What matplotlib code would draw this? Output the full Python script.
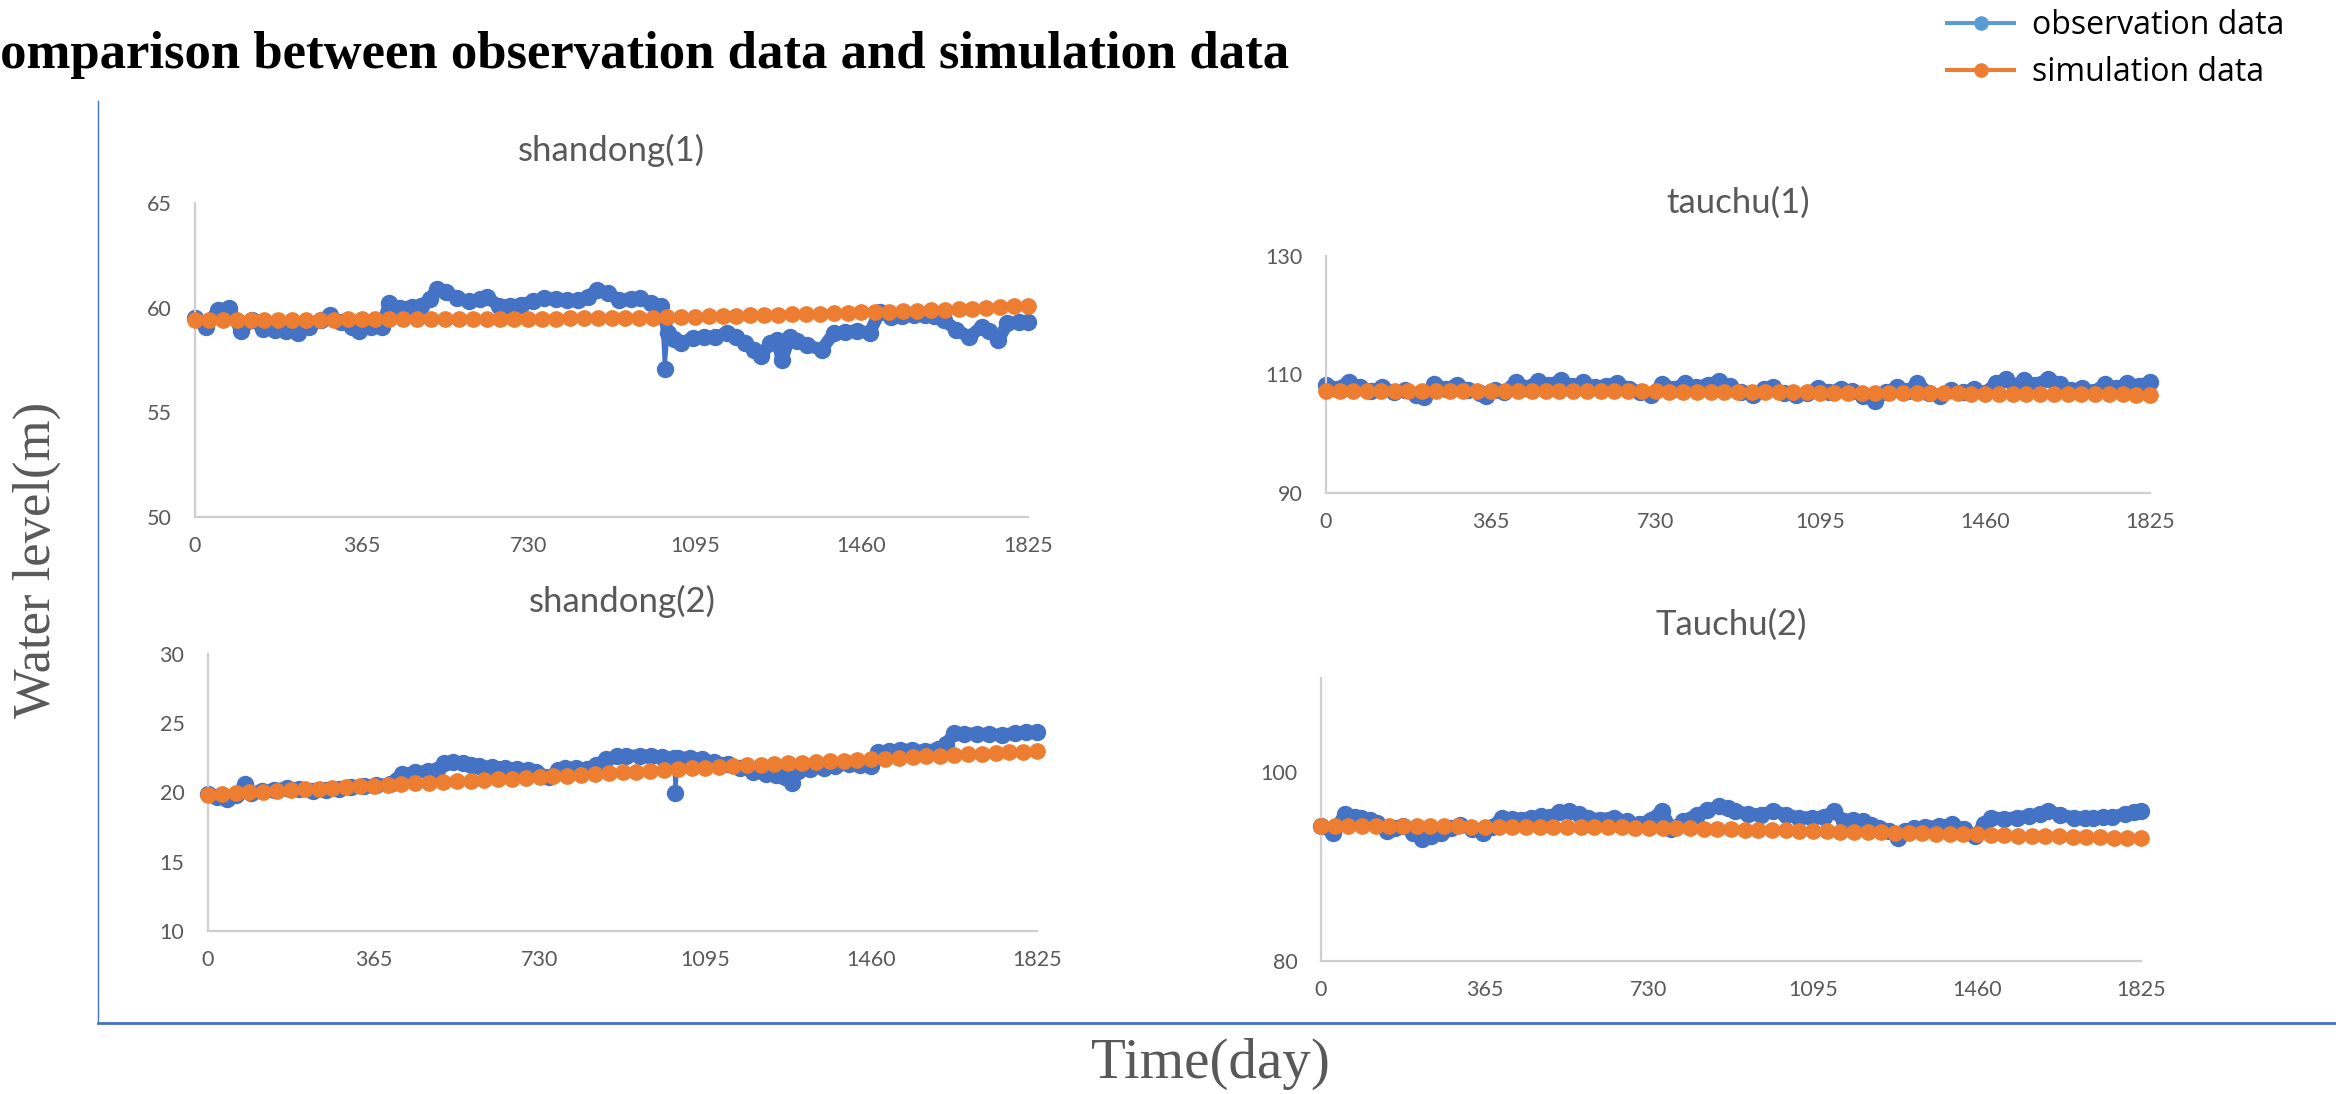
import numpy as np
import matplotlib.pyplot as plt
from matplotlib.lines import Line2D

W, H = 2336, 1094
BLUE = '#4472C4'
ORANGE = '#ED7D31'
GRAY = '#595959'
XTICKS = [0, 365, 730, 1095, 1460, 1825]

# shandong(1)
sd1_obs_day = [0, 25, 50, 75, 100, 125, 150, 175, 200, 225, 250, 275, 295, 320, 345, 360, 385, 410, 425, 450,
               475, 495, 515, 530, 550, 575, 600, 625, 640, 665, 690, 715, 740, 765, 790, 815, 840, 860, 880, 905,
               930, 955, 975, 1000, 1022, 1029, 1036, 1050, 1064, 1090, 1115, 1140, 1165, 1185, 1205, 1225, 1240,
               1260, 1275, 1286, 1303, 1320, 1340, 1373, 1400, 1425, 1450, 1478, 1500, 1525, 1550, 1575, 1600,
               1620, 1640, 1668, 1696, 1724, 1740, 1760, 1780, 1805, 1825]
sd1_obs = [59.5, 59.1, 59.9, 60.0, 58.9, 59.4, 59.0, 58.95, 58.9, 58.8, 59.1, 59.4, 59.65, 59.3, 59.1, 58.9, 59.1,
           59.1, 60.2, 60.0, 60.05, 60.1, 60.4, 60.9, 60.75, 60.45, 60.3, 60.4, 60.5, 60.1, 60.1, 60.15, 60.3, 60.45,
           60.4, 60.35, 60.35, 60.5, 60.85, 60.7, 60.35, 60.4, 60.45, 60.2, 60.1, 57.05, 58.8, 58.5, 58.3, 58.55,
           58.6, 58.6, 58.8, 58.6, 58.3, 58.0, 57.7, 58.3, 58.45, 57.5, 58.6, 58.4, 58.2, 58.0, 58.8, 58.85, 58.9,
           58.8, 59.8, 59.55, 59.6, 59.65, 59.65, 59.6, 59.4, 58.95, 58.6, 59.1, 58.9, 58.45, 59.25, 59.3, 59.3]
sd1_sim = [59.42, 59.42, 59.42, 59.42, 59.42, 59.42, 59.42, 59.42, 59.42, 59.42, 59.42,
           59.44, 59.44, 59.44, 59.44, 59.44, 59.44, 59.44, 59.44, 59.44, 59.44,
           59.46, 59.46, 59.47, 59.47, 59.48, 59.48, 59.49, 59.49, 59.5, 59.5,
           59.51, 59.52, 59.53, 59.55, 59.56, 59.57, 59.59, 59.6, 59.62, 59.63, 59.65, 59.66, 59.68, 59.7, 59.71,
           59.73, 59.75, 59.77, 59.79, 59.81, 59.83, 59.85, 59.87, 59.9, 59.92, 59.95, 59.98, 60.02, 60.06, 60.1]
sd1_spikes = [1029]

# shandong(2)
sd2_obs_day = [0, 20, 42, 62, 81, 95, 119, 145, 175, 200, 232, 260, 288, 315, 344, 370, 400, 415, 428, 455, 484,
               505, 519, 540, 562, 580, 597, 625, 653, 680, 705, 723, 751, 770, 786, 810, 835, 855, 877, 900, 920,
               950, 976, 1000, 1025, 1029, 1035, 1060, 1088, 1115, 1144, 1172, 1200, 1228, 1250, 1270, 1285, 1299,
               1325, 1355, 1380, 1411, 1435, 1460, 1474, 1500, 1523, 1550, 1579, 1607, 1625, 1643, 1665, 1692, 1720,
               1748, 1776, 1800, 1825]
sd2_obs = [19.9, 19.7, 19.5, 19.8, 20.6, 20.0, 20.1, 20.2, 20.35, 20.25, 20.1, 20.15, 20.25, 20.4, 20.5, 20.55,
           20.6, 20.9, 21.3, 21.45, 21.55, 21.6, 22.15, 22.2, 22.15, 22.0, 21.9, 21.85, 21.8, 21.7, 21.6, 21.5, 21.1,
           21.6, 21.8, 21.75, 21.7, 22.0, 22.4, 22.6, 22.65, 22.65, 22.65, 22.55, 22.5, 20.0, 22.5, 22.5, 22.4, 22.2,
           22.05, 21.8, 21.5, 21.3, 21.25, 21.15, 20.7, 21.55, 21.7, 21.8, 21.9, 22.05, 22.0, 21.9, 22.9, 23.0, 23.1,
           23.05, 23.0, 23.15, 23.5, 24.3, 24.25, 24.25, 24.2, 24.15, 24.3, 24.35, 24.35]
sd2_sim = [19.85, 19.9, 19.96, 20.01, 20.07, 20.12, 20.18, 20.23, 20.28, 20.34, 20.39, 20.44, 20.5,
           20.55, 20.6, 20.65, 20.7, 20.75, 20.8, 20.85, 20.9, 20.95, 21.0, 21.05, 21.1,
           21.16, 21.22, 21.28, 21.34, 21.39, 21.45, 21.51, 21.57, 21.63, 21.68, 21.74, 21.8,
           21.85, 21.9, 21.95, 22.0, 22.05, 22.1, 22.15, 22.2, 22.25, 22.3, 22.35, 22.4,
           22.45, 22.5, 22.55, 22.6, 22.65, 22.7, 22.75, 22.8, 22.85, 22.9, 22.95, 23.0]
sd2_spikes = [1029]

# tauchu(1)
tc1_obs_day = [0, 25, 50, 75, 100, 125, 150, 175, 200, 218, 240, 265, 290, 315, 340, 355, 375, 395, 420, 445, 470,
               495, 520, 545, 570, 595, 620, 645, 670, 695, 720, 745, 770, 795, 820, 845, 870, 895, 920, 945, 970,
               990, 1015, 1040, 1065, 1090, 1115, 1140, 1165, 1190, 1215, 1240, 1265, 1290, 1310, 1335, 1360, 1385,
               1410, 1435, 1460, 1485, 1505, 1525, 1545, 1570, 1600, 1625, 1650, 1675, 1700, 1725, 1750, 1775, 1800,
               1825]
tc1_obs = [108.3, 107.6, 108.8, 107.9, 107.2, 107.9, 107.0, 107.4, 106.6, 106.2, 108.4, 107.6, 108.3, 107.4, 106.9,
           106.3, 107.3, 107.0, 108.8, 107.8, 108.9, 108.2, 109.1, 108.0, 108.7, 107.9, 108.1, 108.6, 107.6, 107.0,
           106.6, 108.4, 107.6, 108.5, 107.9, 108.3, 108.9, 108.0, 107.0, 106.6, 107.6, 107.9, 106.9, 106.5, 106.8,
           107.8, 107.0, 107.6, 107.2, 106.4, 105.6, 107.0, 107.9, 107.2, 108.6, 106.8, 106.3, 107.4, 107.0, 107.5,
           106.9, 108.6, 109.2, 108.0, 109.1, 108.2, 109.3, 108.4, 107.3, 107.8, 107.0, 108.4, 107.7, 108.5, 108.1,
           108.7]
tc1_sim = [107.2, 107.2, 107.2, 107.2, 107.2, 107.2, 107.2, 107.2, 107.2, 107.2, 107.2,
           107.2, 107.2, 107.2, 107.2, 107.2, 107.2, 107.2, 107.2, 107.2, 107.2,
           107.18, 107.17, 107.15, 107.14, 107.12, 107.11, 107.09, 107.08, 107.06, 107.05,
           107.03, 107.02, 107.0, 106.99, 106.97, 106.96, 106.94, 106.93, 106.91, 106.9,
           106.88, 106.87, 106.85, 106.84, 106.82, 106.81, 106.79, 106.78, 106.76, 106.75,
           106.73, 106.72, 106.7, 106.69, 106.67, 106.66, 106.64, 106.63, 106.61, 106.6]

# Tauchu(2)
tc2_obs_day = [0, 26, 54, 75, 90, 110, 125, 147, 165, 182, 205, 225, 245, 267, 290, 310, 335, 360, 380, 403, 425,
               445, 467, 490, 509, 530, 552, 575, 595, 620, 651, 680, 708, 735, 758, 780, 805, 836, 860, 886, 905,
               922, 950, 979, 1007, 1035, 1064, 1092, 1120, 1142, 1164, 1185, 1206, 1225, 1242, 1265, 1285, 1300,
               1320, 1345, 1375, 1405, 1430, 1455, 1475, 1491, 1520, 1548, 1575, 1600, 1619, 1645, 1676, 1700, 1718,
               1740, 1761, 1790, 1810, 1825]
tc2_obs = [94.3, 93.6, 95.6, 95.3, 95.2, 94.9, 94.6, 93.8, 94.1, 94.3, 93.6, 92.9, 93.3, 93.6, 94.1, 94.4, 94.0,
           93.6, 94.2, 95.2, 95.1, 95.0, 95.2, 95.4, 95.3, 95.8, 95.9, 95.6, 95.2, 95.0, 95.2, 94.8, 94.5, 95.0,
           95.9, 94.0, 94.8, 95.5, 96.0, 96.4, 96.2, 95.9, 95.6, 95.5, 95.9, 95.5, 95.2, 95.2, 95.3, 95.9, 94.8,
           94.9, 94.8, 94.4, 94.1, 93.8, 93.05, 93.8, 94.1, 94.2, 94.3, 94.5, 94.0, 93.2, 94.5, 95.2, 95.1, 95.2,
           95.4, 95.6, 95.9, 95.5, 95.2, 95.2, 95.2, 95.3, 95.3, 95.6, 95.8, 95.9]
tc2_sim = [94.3, 94.3, 94.3, 94.3, 94.3, 94.3, 94.3, 94.3, 94.3, 94.3, 94.3,
           94.25, 94.25, 94.25, 94.25, 94.25, 94.25, 94.25, 94.25, 94.25, 94.25,
           94.2, 94.2, 94.15, 94.15, 94.1, 94.1, 94.05,
           94.0, 93.98, 93.95, 93.92, 93.9, 93.87, 93.84, 93.81, 93.78, 93.75, 93.72, 93.69, 93.66, 93.63, 93.6,
           93.57, 93.54, 93.51, 93.48, 93.45, 93.41, 93.37, 93.33, 93.3, 93.27, 93.24, 93.21, 93.18, 93.14, 93.1,
           93.06, 93.03, 93.0]

plt.rcParams['font.family'] = ['Lato', 'DejaVu Sans']
SERIF = ['Liberation Serif', 'DejaVu Serif']


def Box(left, top, right, bottom):
    # pixel edges -> figure fraction rect
    return [left / W, 1 - bottom / H, (right - left) / W, (bottom - top) / H]


def Draw_Station(fig, rect, title, obs_day, obs, sim, ylim, yticks, spikes=()):
    ax = fig.add_axes(rect)
    sim_day = np.linspace(0, 1825, len(sim))
    # daily readings sit so close together they read as a thick band;
    # single outliers keep only a thin stem to the band
    keep = [i for i, d in enumerate(obs_day) if d not in spikes]
    ax.plot([obs_day[i] for i in keep], [obs[i] for i in keep], color=BLUE, lw=9,
            solid_capstyle='round', solid_joinstyle='round', clip_on=False, zorder=2)
    ax.plot(obs_day, obs, '-o', color=BLUE, lw=2.6, ms=11.5, clip_on=False, zorder=2)
    ax.plot(sim_day, sim, '-o', color=ORANGE, lw=2.6, ms=11, clip_on=False, zorder=3)
    ax.set_xlim(0, 1825)
    ax.set_ylim(*ylim)
    ax.set_xticks(XTICKS)
    ax.set_yticks(yticks)
    ax.tick_params(length=0, labelsize=15.5, colors=GRAY)
    ax.tick_params(axis='y', pad=17)
    ax.tick_params(axis='x', pad=14)
    for side in ['top', 'right']:
        ax.spines[side].set_visible(False)
    for side in ['left', 'bottom']:
        ax.spines[side].set_color('#CFCFCF')
        ax.spines[side].set_linewidth(1.6)
    ax.annotate(title, xy=(0.5, 1), xycoords='axes fraction', xytext=(0, 38), textcoords='offset points',
                ha='center', va='center', fontsize=25, color=GRAY)
    return ax


fig = plt.figure(figsize=(W / 100, H / 100), dpi=100)

Draw_Station(fig, Box(195, 203, 1028, 517), 'shandong(1)', sd1_obs_day, sd1_obs, sd1_sim,
             (50, 65), [50, 55, 60, 65], sd1_spikes)
Draw_Station(fig, Box(208, 654, 1037, 931), 'shandong(2)', sd2_obs_day, sd2_obs, sd2_sim,
             (10, 30), [10, 15, 20, 25, 30], sd2_spikes)
Draw_Station(fig, Box(1326, 256, 2150, 493), 'tauchu(1)', tc1_obs_day, tc1_obs, tc1_sim,
             (90, 130), [90, 110, 130])
Draw_Station(fig, Box(1321, 678, 2141, 961), 'Tauchu(2)', tc2_obs_day, tc2_obs, tc2_sim,
             (80, 110), [80, 100])

# outer frame lines
fig.add_artist(Line2D([98 / W, 98 / W], [1 - 101 / H, 1 - 1022 / H], transform=fig.transFigure,
                      color=BLUE, lw=1.0))
fig.add_artist(Line2D([98 / W, 1], [1 - 1023 / H, 1 - 1023 / H], transform=fig.transFigure,
                      color=BLUE, lw=2.0))

fig.text(-38 / W, 1 - 68 / H, 'Comparison between observation data and simulation data', family=SERIF,
         fontsize=38, fontweight='bold', ha='left', va='baseline', color='black')
fig.text(37 / W, 1 - 560 / H, 'Water level(m)', family=SERIF, fontsize=38, rotation=90,
         ha='center', va='center', color=GRAY)
fig.text(1210 / W, 1 - 1064 / H, 'Time(day)', family=SERIF, fontsize=41, ha='center', va='center', color=GRAY)

handles = [Line2D([], [], color='#5B9BD5', marker='o', lw=2.9, ms=9.5),
           Line2D([], [], color=ORANGE, marker='o', lw=2.9, ms=9.5)]
fig.legend(handles, ['observation data', 'simulation data'], loc='upper left',
           bbox_to_anchor=(1947 / W, 1 - 9 / H), frameon=False, borderpad=0, borderaxespad=0,
           handlelength=2.1, handletextpad=0.55, labelspacing=0.45,
           prop={'family': ['Open Sans', 'DejaVu Sans'], 'size': 23})

fig.savefig('out.png', dpi=100)
